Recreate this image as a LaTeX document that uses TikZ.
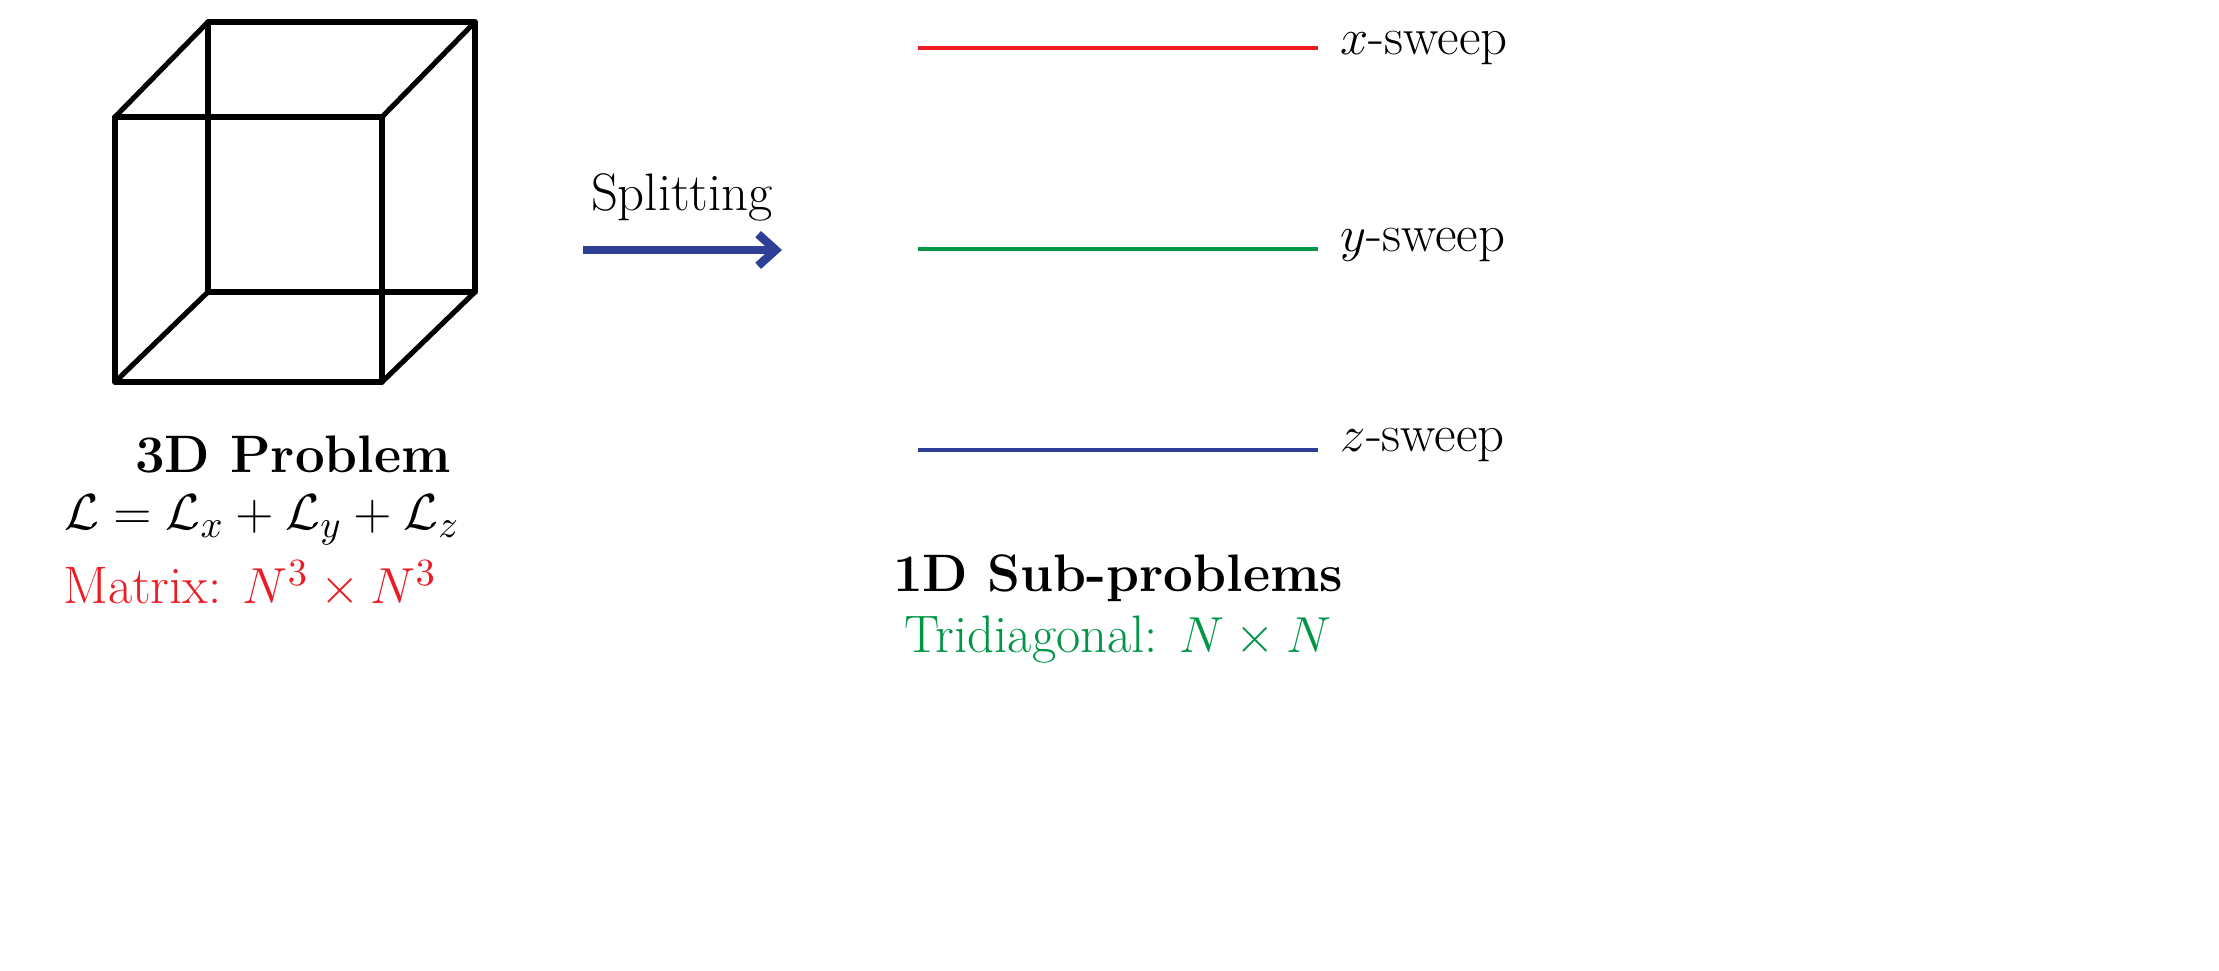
\documentclass[tikz,border=0pt]{standalone}
\usetikzlibrary{arrows.meta}
\definecolor{cred}{RGB}{237,28,36}
\definecolor{cgreen}{RGB}{0,150,70}
\definecolor{cblue}{RGB}{46,64,150}
\begin{document}
\begin{tikzpicture}[x=0.01cm,y=-0.01cm,
  edge/.style={line width=1.45pt,line join=round,line cap=round},
  txt/.style={font=\fontsize{15}{18}\selectfont,inner sep=0pt},
  sweep/.style={line width=1.3pt}]
\useasboundingbox (0,0) rectangle (2219,971);
\coordinate (a) at (115,117); \coordinate (b) at (382,117);
\coordinate (c) at (382,382); \coordinate (d) at (115,382);
\coordinate (e) at (208,22); \coordinate (f) at (475,22);
\coordinate (g) at (475,292); \coordinate (h) at (208,292);
\draw[edge] (a)--(b)--(c)--(d)--cycle;
\draw[edge] (e)--(f)--(g)--(h)--cycle;
\draw[edge] (a)--(e) (b)--(f) (c)--(g) (d)--(h);
\node[txt] (t1) at (293,455) {\bfseries 3D Problem};
\node[txt] (t2) at (262,520) {$\mathcal{L}=\mathcal{L}_x+\mathcal{L}_y+\mathcal{L}_z$};
\node[txt,text=cred] (t3) at (250,584) {Matrix: $N^3\times N^3$};
\coordinate (s0) at (583,250); \coordinate (s1) at (782,250);
\draw[cblue,line width=2.4pt,-{Straight Barb[length=5pt,width=9pt]}] (s0)--(s1);
\node[txt] (sp) at (682,197) {Splitting};
\coordinate (x0) at (918,48); \coordinate (x1) at (1318,48);
\coordinate (y0) at (918,249); \coordinate (y1) at (1318,249);
\coordinate (z0) at (918,450); \coordinate (z1) at (1318,450);
\draw[sweep,cred] (x0)--(x1);
\draw[sweep,cgreen] (y0)--(y1);
\draw[sweep,cblue] (z0)--(z1);
\node[txt,anchor=west] (lx) at (1340,48) {$x$-sweep};
\node[txt,anchor=west] (ly) at (1340,245) {$y$-sweep};
\node[txt,anchor=west] (lz) at (1340,445) {$z$-sweep};
\node[txt] (u1) at (1118,578) {\bfseries 1D Sub-problems};
\node[txt,text=cgreen] (u2) at (1118,640) {Tridiagonal: $N\times N$};
\end{tikzpicture}
\end{document}
